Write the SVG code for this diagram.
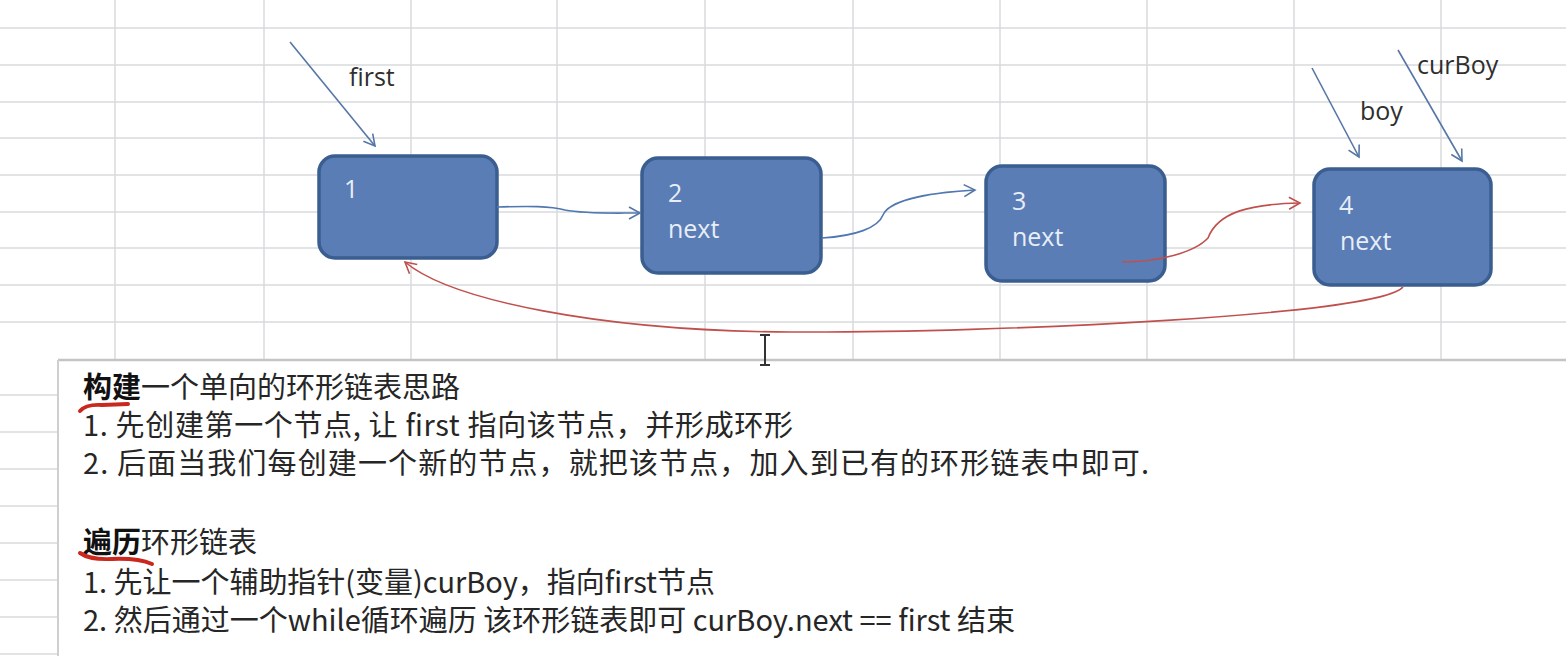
<svg xmlns="http://www.w3.org/2000/svg" width="1566" height="656" viewBox="0 0 1566 656">
<style>
.grid line{stroke:#d9dadb;stroke-width:1.5}
.node rect{fill:#5a7db5;stroke:#3b5e90;stroke-width:3.5}
.nl{font-family:"Open Sans","Noto Sans",sans-serif;font-size:25px;fill:#e8eef7}
.ptr{font-family:"Open Sans","Noto Sans",sans-serif;font-size:25px;fill:#2e2e2e}
.pline{fill:none;stroke:#5676a6;stroke-width:1.6}
.blue{fill:none;stroke:#4f78b0;stroke-width:1.6}
.red{fill:none;stroke:#c0504d;stroke-width:1.6}
.t{font-family:"Noto Sans CJK SC","Noto Sans",sans-serif;font-size:29px;fill:#262626}
.b{font-weight:bold;fill:#111}
.ul{fill:none;stroke:#c8281e;stroke-width:4;stroke-linecap:round}
</style>
<defs>
<marker id="ab" markerWidth="16" markerHeight="16" refX="13" refY="8" orient="auto" markerUnits="userSpaceOnUse"><path d="M2,2 L13,8 L2,14" fill="none" stroke="#5676a6" stroke-width="1.6"/></marker>
<marker id="ar" markerWidth="16" markerHeight="16" refX="13" refY="8" orient="auto" markerUnits="userSpaceOnUse"><path d="M2,2 L13,8 L2,14" fill="none" stroke="#c0504d" stroke-width="1.6"/></marker>
</defs>
<rect width="1566" height="656" fill="#ffffff"/>
<g class="grid">
<line x1="0" y1="28" x2="1566" y2="28"/>
<line x1="0" y1="65" x2="1566" y2="65"/>
<line x1="0" y1="102" x2="1566" y2="102"/>
<line x1="0" y1="138" x2="1566" y2="138"/>
<line x1="0" y1="175" x2="1566" y2="175"/>
<line x1="0" y1="212" x2="1566" y2="212"/>
<line x1="0" y1="248" x2="1566" y2="248"/>
<line x1="0" y1="285" x2="1566" y2="285"/>
<line x1="0" y1="322" x2="1566" y2="322"/>
<line x1="0" y1="395" x2="58" y2="395"/>
<line x1="0" y1="432" x2="58" y2="432"/>
<line x1="0" y1="469" x2="58" y2="469"/>
<line x1="0" y1="506" x2="58" y2="506"/>
<line x1="0" y1="543" x2="58" y2="543"/>
<line x1="0" y1="580" x2="58" y2="580"/>
<line x1="0" y1="617" x2="58" y2="617"/>
<line x1="0" y1="654" x2="58" y2="654"/>
<line x1="115" y1="0" x2="115" y2="360"/>
<line x1="264" y1="0" x2="264" y2="360"/>
<line x1="411" y1="0" x2="411" y2="360"/>
<line x1="557" y1="0" x2="557" y2="360"/>
<line x1="705" y1="0" x2="705" y2="360"/>
<line x1="853" y1="0" x2="853" y2="360"/>
<line x1="1000" y1="0" x2="1000" y2="360"/>
<line x1="1147" y1="0" x2="1147" y2="360"/>
<line x1="1294" y1="0" x2="1294" y2="360"/>
<line x1="1441" y1="0" x2="1441" y2="360"/>
</g>
<g id="textbox">
<rect x="58" y="360" width="1510" height="300" fill="#ffffff"/>
<line x1="58" y1="360" x2="1566" y2="360" stroke="#c4c4c4" stroke-width="2.5"/>
<line x1="58" y1="360" x2="58" y2="656" stroke="#cfcfcf" stroke-width="2"/>
<text class="t" x="83" y="398"><tspan class="b">构建</tspan>一个单向的环形链表思路</text>
<text class="t" x="83" y="436" textLength="710" lengthAdjust="spacing">1. 先创建第一个节点, 让 first 指向该节点，并形成环形</text>
<text class="t" x="83" y="474" textLength="1066" lengthAdjust="spacing">2. 后面当我们每创建一个新的节点，就把该节点，加入到已有的环形链表中即可.</text>
<text class="t" x="83" y="553"><tspan class="b">遍历</tspan>环形链表</text>
<text class="t" x="83" y="593" textLength="632" lengthAdjust="spacing">1. 先让一个辅助指针(变量)curBoy，指向first节点</text>
<text class="t" x="83" y="631" textLength="932" lengthAdjust="spacing">2. 然后通过一个while循环遍历 该环形链表即可 curBoy.next == first 结束</text>
<path class="ul" d="M80,411 Q86,404 102,405 L128,404"/>
<path class="ul" d="M80,553 Q90,560 112,559 Q138,558 152,564"/>
</g>
<g id="cursor" stroke="#333" stroke-width="2" fill="none">
<line x1="765" y1="336" x2="765" y2="364"/>
<line x1="760" y1="335" x2="770" y2="335"/>
<line x1="760" y1="365" x2="770" y2="365"/>
</g>
<g id="node1" class="node">
<rect x="319" y="156" width="178" height="102" rx="16"/>
<text class="nl" x="344" y="198">1</text>
</g>
<g id="node2" class="node">
<rect x="642" y="158" width="179" height="115" rx="16"/>
<text class="nl" x="668" y="202">2</text>
<text class="nl" x="668" y="238">next</text>
</g>
<g id="node3" class="node">
<rect x="986" y="166" width="179" height="115" rx="16"/>
<text class="nl" x="1012" y="210">3</text>
<text class="nl" x="1012" y="246">next</text>
</g>
<g id="node4" class="node">
<rect x="1314" y="169" width="177" height="116" rx="16"/>
<text class="nl" x="1339" y="214">4</text>
<text class="nl" x="1340" y="250">next</text>
</g>
<g id="connectors">
<path class="blue" d="M497,207 C530,206 550,206 565,210 C585,214 610,213 640,213" marker-end="url(#ab)"/>
<path class="blue" d="M822,238 C855,236 878,228 883,215 C890,198 940,192 975,190" marker-end="url(#ab)"/>
<path class="red" d="M1122,262 C1160,262 1195,252 1208,238 C1218,212 1250,204 1300,203" marker-end="url(#ar)"/>
<path class="red" d="M1403,287 C1380,315 1000,333 790,332 C600,331 450,300 405,262" marker-end="url(#ar)"/>
<line class="pline" x1="290" y1="42" x2="375" y2="146" marker-end="url(#ab)"/>
<line class="pline" x1="1312" y1="68" x2="1359" y2="157" marker-end="url(#ab)"/>
<line class="pline" x1="1398" y1="50" x2="1462" y2="161" marker-end="url(#ab)"/>
</g>
<g id="labels">
<text class="ptr" x="349" y="86">first</text>
<text class="ptr" x="1360" y="120">boy</text>
<text class="ptr" x="1417" y="74">curBoy</text>
</g>
</svg>
